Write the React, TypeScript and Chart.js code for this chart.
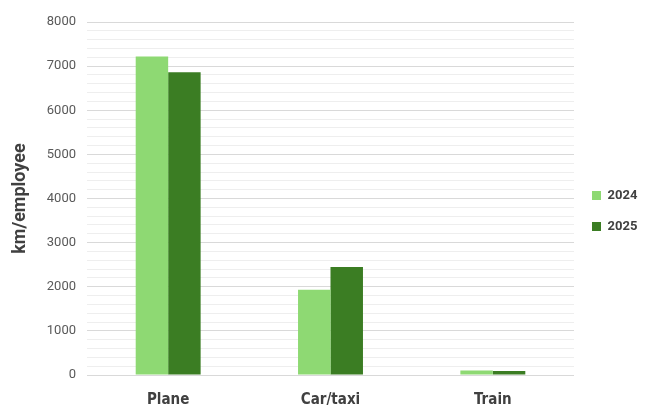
import React, { useEffect, useRef } from "react";
import { Chart, registerables } from "chart.js";

Chart.register(...registerables);

const categories = ["Plane", "Car/taxi", "Train"];
const values2024 = [7220, 1930, 100];
const values2025 = [6860, 2450, 90];
const seriesLabels = ["2024", "2025"];
const yMax = 8000;
const yStep = 200;
const yLabelStep = 1000;

const legendShift = {
  id: "legendShift",
  beforeDraw(chart: any) {
    if (chart.legend) {
      chart.legend.bottom -= 14;
    }
  },
};

export default function App() {
  const ref = useRef<HTMLCanvasElement | null>(null);
  useEffect(() => {
    if (!ref.current) return;
    const chart = new Chart(ref.current, {
      type: "bar",
      data: {
        labels: categories,
        datasets: [
          {
            label: seriesLabels[0],
            data: values2024,
            backgroundColor: "#8ED973",
            categoryPercentage: 0.4,
            barPercentage: 1.0,
          },
          {
            label: seriesLabels[1],
            data: values2025,
            backgroundColor: "#3B7D23",
            categoryPercentage: 0.4,
            barPercentage: 1.0,
          },
        ],
      },
      plugins: [legendShift],
      options: {
        animation: false,
        responsive: true,
        maintainAspectRatio: false,
        layout: { padding: { top: 22, right: 0, bottom: 0, left: 10 } },
        plugins: {
          tooltip: { enabled: false },
          legend: {
            position: "right",
            align: "center",
            maxWidth: 71,
            labels: {
              boxWidth: 9,
              boxHeight: 9,
              padding: 18,
              color: "#404040",
              font: { family: "Roboto, 'DejaVu Sans', sans-serif", size: 13, weight: "bold" },
            },
          },
        },
        scales: {
          x: {
            grid: { display: false },
            border: { display: false },
            ticks: {
              color: "#404040",
              padding: 8,
              font: { family: "'Liberation Sans Narrow', 'DejaVu Sans Condensed', Roboto, sans-serif", size: 15, weight: "bold" },
            },
            afterFit: (axis: any) => {
              axis.height = 39;
            },
          },
          y: {
            min: 0,
            max: yMax,
            border: { display: false },
            grid: {
              drawTicks: false,
              color: (ctx: any) =>
                ctx.tick && ctx.tick.value % yLabelStep === 0 ? "#d9d9d9" : "#eeeeee",
              lineWidth: 1,
            },
            ticks: {
              stepSize: yStep,
              autoSkip: false,
              padding: 11,
              color: "#595959",
              font: { family: "Roboto, 'DejaVu Sans', sans-serif", size: 13 },
              callback: (v: any) => (Number(v) % yLabelStep === 0 ? String(v) : ""),
            },
            title: {
              display: true,
              text: "km/employee",
              color: "#404040",
              padding: { top: 0, bottom: 4 },
              font: { family: "Roboto, 'DejaVu Sans', sans-serif", size: 18, weight: "bold" },
            },
            afterFit: (axis: any) => {
              axis.width = 77;
            },
          },
        },
      },
    });
    return () => chart.destroy();
  }, []);
  return (
    <div style={{ position: "fixed", left: 0, top: 0, width: 645, height: 414, background: "#fff" }}>
      <canvas ref={ref} />
    </div>
  );
}
